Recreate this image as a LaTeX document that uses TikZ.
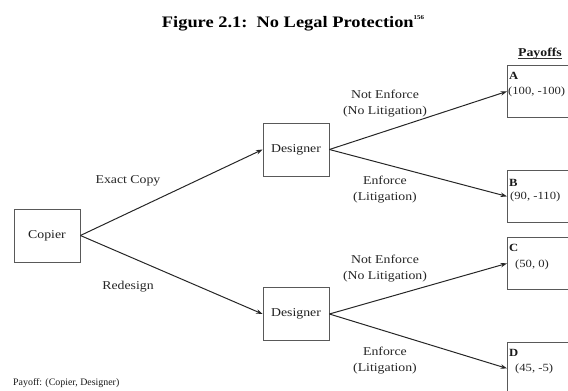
\documentclass[tikz,border=0pt]{standalone}
\usepackage{fontspec}
\setmainfont{Liberation Serif}[FakeStretch=1.15]
\newfontfamily\notefont{Liberation Serif}
\usetikzlibrary{arrows.meta}

\begin{document}
\begin{tikzpicture}[x=1pt,y=-1pt,
  player/.style={draw=black!65, line width=0.8pt, minimum width=66pt,
    minimum height=53pt, inner sep=0pt, text=black!88,
    font=\fontsize{12}{14}\selectfont},
  paybox/.style={draw=black!65, line width=0.8pt, minimum width=90pt,
    minimum height=52pt, inner sep=0pt, anchor=north west},
  branch/.style={draw=black!85, line width=1pt},
  move/.style={branch, -{Stealth[length=6.5pt,width=4.5pt]}},
  lbl/.style={font=\fontsize{12}{16}\selectfont, align=center,
    text=black!85, inner sep=0pt},
  tag/.style={anchor=base west, inner sep=0pt, text=black!90,
    font=\bfseries\fontsize{11}{13}\selectfont},
  val/.style={anchor=base west, inner sep=0pt, text=black!85,
    font=\fontsize{11}{13}\selectfont}
]
\useasboundingbox (0,0) rectangle (568,391);
\clip (0,0) rectangle (568,391);

% heading
\node (title) [anchor=base, inner sep=0pt, text=black] at (293,27)
  {\bfseries\fontsize{16}{18}\selectfont Figure 2.1:\ \ No Legal Protection\raisebox{7.5pt}{\fontsize{6}{7}\selectfont 156}};

% players
\node (copier) [player] at (47,235.5) {Copier};
\node (des1)   [player] at (296,149.5) {Designer};
\node (des2)   [player] at (296,314) {Designer};

% outcome boxes
\node (payhead) [anchor=base, inner sep=0pt, text=black!90,
  font=\bfseries\fontsize{12}{14}\selectfont] at (540,56) {Payoffs};
\draw[black!80, line width=0.7pt] ([yshift=-2.3pt]payhead.base west) -- ([yshift=-2.3pt]payhead.base east);

\node (boxA) [paybox] at (507,65)  {};
\node (boxB) [paybox] at (507,170) {};
\node (boxC) [paybox] at (507,237) {};
\node (boxD) [paybox] at (507,342) {};

\node (tagA) [tag] at (509,79)  {A};
\node (valA) [val] at (508,94)  {(100, -100)};
\node (tagB) [tag] at (509,186) {B};
\node (valB) [val] at (510,199) {(90, -110)};
\node (tagC) [tag] at (509,251) {C};
\node (valC) [val] at (515,267) {(50, 0)};
\node (tagD) [tag] at (509,356) {D};
\node (valD) [val] at (515,371) {(45, -5)};

% moves
\draw[move] (copier.east) -- (des1.west);
\draw[move] (copier.east) -- (des2.west);
\draw[move] (des1.east) -- (boxA.west);
\draw[move] (des1.east) -- (boxB.west);
\draw[move] (des2.east) -- (boxC.west);
\draw[move] (des2.east) -- (boxD.west);

% move labels
\node (lcopy)  [lbl] at (128,181) {Exact Copy};
\node (lredes) [lbl] at (128,287) {Redesign};
\node (lnot1)  [lbl] at (385,103.5) {Not Enforce\\(No Litigation)};
\node (lenf1)  [lbl] at (385,189.5) {Enforce\\(Litigation)};
\node (lnot2)  [lbl] at (385,268.5) {Not Enforce\\(No Litigation)};
\node (lenf2)  [lbl] at (385,360.5) {Enforce\\(Litigation)};

% legend
\node (legend) [anchor=west, inner sep=0pt, text=black!90,
  font=\notefont\fontsize{9.9}{11}\selectfont] at (13,383) {Payoff: (Copier, Designer)};
\end{tikzpicture}
\end{document}
